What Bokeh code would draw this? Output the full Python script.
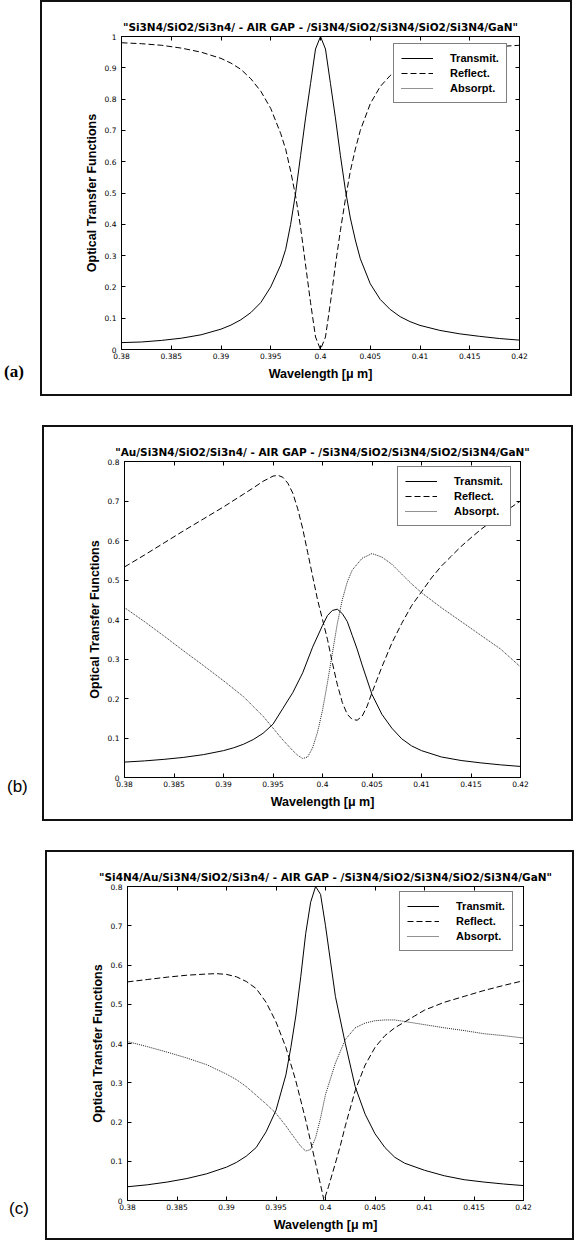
from bokeh.plotting import figure
from bokeh.models import (LinearAxis, FixedTicker, Legend, LegendItem, Range1d, Div)
from bokeh.layouts import column, row
from bokeh.embed import file_html
from bokeh.resources import INLINE

# ---------------- data ----------------
x_ticks = [0.38, 0.385, 0.39, 0.395, 0.4, 0.405, 0.41, 0.415, 0.42]
x_tick_labels = ["0.38", "0.385", "0.39", "0.395", "0.4", "0.405", "0.41", "0.415", "0.42"]
y_ticks_a = [0, 0.1, 0.2, 0.3, 0.4, 0.5, 0.6, 0.7, 0.8, 0.9, 1]
y_tick_labels_a = ["0", "0.1", "0.2", "0.3", "0.4", "0.5", "0.6", "0.7", "0.8", "0.9", "1"]
y_ticks_bc = [0, 0.1, 0.2, 0.3, 0.4, 0.5, 0.6, 0.7, 0.8]
y_tick_labels_bc = ["0", "0.1", "0.2", "0.3", "0.4", "0.5", "0.6", "0.7", "0.8"]

titles = [
    '"Si3N4/SiO2/Si3n4/ - AIR GAP - /Si3N4/SiO2/Si3N4/SiO2/Si3N4/GaN"',
    '"Au/Si3N4/SiO2/Si3n4/ - AIR GAP - /Si3N4/SiO2/Si3N4/SiO2/Si3N4/GaN"',
    '"Si4N4/Au/Si3N4/SiO2/Si3n4/ - AIR GAP - /Si3N4/SiO2/Si3N4/SiO2/Si3N4/GaN"',
]
series_names = ["Transmit.", "Reflect.", "Absorpt."]
panel_tags = ["(a)", "(b)", "(c)"]
x_label = "Wavelength [\u03bc m]"
y_label = "Optical Transfer Functions"

# panel (a)
a_T_x = [0.380, 0.382, 0.384, 0.386, 0.388, 0.390, 0.391, 0.392, 0.393, 0.394, 0.395, 0.396, 0.3965,
         0.397, 0.3975, 0.398, 0.3985, 0.399, 0.3995, 0.400, 0.4005, 0.401, 0.4015, 0.402, 0.4025,
         0.403, 0.4035, 0.404, 0.405, 0.406, 0.407, 0.408, 0.409, 0.410, 0.412, 0.414, 0.416, 0.418, 0.420]
a_T_y = [0.022, 0.024, 0.029, 0.036, 0.047, 0.065, 0.078, 0.095, 0.118, 0.150, 0.200, 0.27, 0.32,
         0.40, 0.50, 0.62, 0.74, 0.85, 0.96, 1.0, 0.96, 0.85, 0.74, 0.62, 0.51,
         0.42, 0.35, 0.29, 0.21, 0.16, 0.128, 0.105, 0.089, 0.077, 0.061, 0.050, 0.042, 0.035, 0.030]
a_R_x = a_T_x
a_R_y = [0.980, 0.977, 0.972, 0.963, 0.950, 0.930, 0.915, 0.895, 0.865, 0.825, 0.77, 0.69, 0.64,
         0.57, 0.49, 0.39, 0.27, 0.15, 0.04, 0.0, 0.04, 0.15, 0.27, 0.38, 0.48,
         0.57, 0.64, 0.70, 0.785, 0.84, 0.875, 0.90, 0.918, 0.930, 0.945, 0.955, 0.962, 0.968, 0.972]
a_A_x = [0.380, 0.390, 0.400, 0.410, 0.420]
a_A_y = [0.0, 0.0, 0.0, 0.0, 0.0]

# panel (b)
b_T_x = [0.380, 0.382, 0.384, 0.386, 0.388, 0.390, 0.391, 0.392, 0.393, 0.394, 0.395, 0.396, 0.397,
         0.398, 0.399, 0.400, 0.4005, 0.401, 0.4015, 0.402, 0.4025, 0.403, 0.4035, 0.404, 0.405,
         0.406, 0.407, 0.408, 0.409, 0.410, 0.412, 0.414, 0.416, 0.418, 0.420]
b_T_y = [0.039, 0.042, 0.046, 0.051, 0.058, 0.068, 0.075, 0.084, 0.096, 0.112, 0.135, 0.175, 0.215,
         0.265, 0.33, 0.385, 0.41, 0.423, 0.426, 0.415, 0.395, 0.36, 0.325, 0.285, 0.21,
         0.16, 0.125, 0.098, 0.080, 0.068, 0.052, 0.043, 0.037, 0.032, 0.028]
b_R_x = [0.380, 0.382, 0.384, 0.386, 0.388, 0.390, 0.392, 0.393, 0.394, 0.395, 0.3955, 0.396, 0.3965,
         0.397, 0.3975, 0.398, 0.3985, 0.399, 0.3995, 0.400, 0.4005, 0.401, 0.4015, 0.402, 0.4025,
         0.403, 0.4035, 0.404, 0.4045, 0.405, 0.406, 0.407, 0.408, 0.409, 0.410, 0.411, 0.412,
         0.413, 0.414, 0.415, 0.416, 0.417, 0.418, 0.419, 0.420]
b_R_y = [0.533, 0.563, 0.594, 0.625, 0.655, 0.685, 0.717, 0.733, 0.750, 0.763, 0.765, 0.760, 0.745,
         0.72, 0.68, 0.63, 0.57, 0.51, 0.45, 0.40, 0.35, 0.29, 0.235, 0.19, 0.16,
         0.147, 0.145, 0.155, 0.18, 0.215, 0.28, 0.34, 0.39, 0.435, 0.47, 0.505, 0.535,
         0.56, 0.585, 0.607, 0.628, 0.647, 0.665, 0.683, 0.70]
b_A_x = [0.380, 0.382, 0.384, 0.386, 0.388, 0.390, 0.392, 0.393, 0.394, 0.395, 0.396, 0.397, 0.3975,
         0.398, 0.3985, 0.399, 0.3995, 0.400, 0.4005, 0.401, 0.4015, 0.402, 0.4025, 0.403, 0.404,
         0.405, 0.406, 0.407, 0.408, 0.409, 0.410, 0.412, 0.414, 0.416, 0.418, 0.420]
b_A_y = [0.43, 0.395, 0.358, 0.32, 0.283, 0.245, 0.205, 0.18, 0.155, 0.125, 0.095, 0.068, 0.056,
         0.048, 0.052, 0.075, 0.115, 0.17, 0.24, 0.315, 0.39, 0.45, 0.495, 0.525, 0.555,
         0.567, 0.558, 0.540, 0.515, 0.49, 0.468, 0.43, 0.395, 0.36, 0.325, 0.28]

# panel (c)
c_T_x = [0.380, 0.382, 0.384, 0.386, 0.388, 0.390, 0.391, 0.392, 0.393, 0.394, 0.395, 0.396, 0.3965,
         0.397, 0.3975, 0.398, 0.3985, 0.399, 0.3995, 0.400, 0.4005, 0.401, 0.4015, 0.402, 0.403,
         0.404, 0.405, 0.406, 0.407, 0.408, 0.410, 0.412, 0.414, 0.416, 0.418, 0.420]
c_T_y = [0.035, 0.040, 0.047, 0.056, 0.068, 0.085, 0.097, 0.113, 0.135, 0.175, 0.23, 0.32, 0.39,
         0.47, 0.57, 0.68, 0.76, 0.80, 0.78, 0.70, 0.61, 0.52, 0.46, 0.40, 0.29,
         0.22, 0.17, 0.135, 0.11, 0.095, 0.077, 0.063, 0.053, 0.047, 0.042, 0.038]
c_R_x = [0.380, 0.382, 0.384, 0.386, 0.388, 0.389, 0.390, 0.391, 0.392, 0.393, 0.394, 0.395, 0.396,
         0.397, 0.398, 0.3985, 0.399, 0.3995, 0.39985, 0.4003, 0.401, 0.4015, 0.402, 0.403, 0.404,
         0.405, 0.406, 0.407, 0.408, 0.409, 0.410, 0.412, 0.414, 0.416, 0.418, 0.420]
c_R_y = [0.557, 0.563, 0.569, 0.574, 0.577, 0.578, 0.576, 0.570, 0.558, 0.54, 0.505, 0.455, 0.39,
         0.305, 0.205, 0.15, 0.095, 0.04, 0.0, 0.035, 0.095, 0.14, 0.19, 0.28, 0.345,
         0.39, 0.42, 0.44, 0.455, 0.47, 0.485, 0.505, 0.52, 0.535, 0.548, 0.56]
c_A_x = [0.380, 0.382, 0.384, 0.386, 0.388, 0.390, 0.391, 0.392, 0.393, 0.394, 0.395, 0.396, 0.397,
         0.3975, 0.398, 0.3985, 0.399, 0.3995, 0.400, 0.401, 0.402, 0.403, 0.404, 0.405, 0.406,
         0.407, 0.408, 0.410, 0.412, 0.414, 0.416, 0.418, 0.420]
c_A_y = [0.405, 0.392, 0.378, 0.363, 0.346, 0.322, 0.308, 0.29, 0.268, 0.246, 0.222, 0.19, 0.155,
         0.138, 0.126, 0.13, 0.16, 0.21, 0.27, 0.35, 0.41, 0.44, 0.452, 0.458, 0.46,
         0.46, 0.456, 0.448, 0.44, 0.433, 0.425, 0.42, 0.414]

# ---------------- styling / layout ----------------
SANS = "Liberation Sans"
WIDE = "DejaVu Sans"
PANEL_GAP = 29

line_styles = [dict(line_dash="solid", line_color="black", line_width=1),
               dict(line_dash="6 3", line_color="black", line_width=1),
               dict(line_dash="1 1", line_color="#222222", line_width=1)]

geoms = [
    dict(dw=40, W=532, H=396, fl=81, fw=398, ft=36, fh=313, leg=(272, 246),
         tag_pad=(4, 362), tag_font="'Liberation Serif', serif", tag_weight="bold"),
    dict(dw=42, W=531, H=396, fl=82, fw=396, ft=36, fh=316, leg=(273, 251),
         tag_pad=(7, 352), tag_font="'Liberation Sans', sans-serif", tag_weight="normal"),
    dict(dw=45, W=529, H=390, fl=82, fw=396, ft=36, fh=314, leg=(272, 249),
         tag_pad=(9, 349), tag_font="'Liberation Sans', sans-serif", tag_weight="normal"),
]


def style_axis(ax, ticks, labels, show_labels=True):
    ax.ticker = FixedTicker(ticks=ticks)
    ax.major_tick_in = 4
    ax.major_tick_out = 0
    ax.minor_tick_in = 0
    ax.minor_tick_out = 0
    ax.major_tick_line_color = "black"
    ax.axis_line_color = "black"
    if show_labels:
        ax.major_label_overrides = dict(zip(ticks, labels))
        ax.major_label_text_font = WIDE
        ax.major_label_text_font_size = "7.5px"
        ax.major_label_text_color = "black"
    else:
        ax.major_label_overrides = {t: "" for t in ticks}
        ax.major_label_text_font_size = "0px"
        ax.major_label_standoff = 0


def make_panel(i, y_max, y_ticks, y_labels, data):
    g = geoms[i]
    p = figure(frame_width=g["fw"], frame_height=g["fh"],
               min_border_left=g["fl"], min_border_right=g["W"] - g["fl"] - g["fw"],
               min_border_top=g["ft"], min_border_bottom=g["H"] - g["ft"] - g["fh"],
               x_range=Range1d(0.38, 0.42), y_range=Range1d(0, y_max),
               output_backend="svg", toolbar_location=None, title=titles[i],
               margin=0,
               styles={"box-shadow": "inset 0 0 0 2px #111111", "background": "white"})
    p.xgrid.visible = False
    p.ygrid.visible = False
    p.outline_line_color = "black"
    p.outline_line_alpha = 1
    p.background_fill_color = "white"
    p.border_fill_alpha = 0

    p.title.align = "center"
    p.title.text_font = WIDE
    p.title.text_font_style = "bold"
    p.title.text_font_size = "10.5px"
    p.title.text_color = "black"
    p.title.standoff = 7

    xa = p.xaxis[0]
    style_axis(xa, x_ticks, x_tick_labels)
    xa.major_label_standoff = 3
    xa.axis_label = x_label
    xa.axis_label_text_font = SANS
    xa.axis_label_text_font_style = "bold"
    xa.axis_label_text_font_size = "12.5px"
    xa.axis_label_text_color = "black"
    xa.axis_label_standoff = 5

    ya = p.yaxis[0]
    style_axis(ya, y_ticks, y_labels)
    ya.major_label_standoff = 5
    ya.axis_label = y_label
    ya.axis_label_text_font = SANS
    ya.axis_label_text_font_style = "bold"
    ya.axis_label_text_font_size = "12.5px"
    ya.axis_label_text_color = "black"
    ya.axis_label_standoff = 3

    top = LinearAxis()
    style_axis(top, x_ticks, x_tick_labels, show_labels=False)
    p.add_layout(top, "above")
    right = LinearAxis()
    style_axis(right, y_ticks, y_labels, show_labels=False)
    p.add_layout(right, "right")

    items = []
    for name, (xs, ys), st in zip(series_names, data, line_styles):
        r = p.line(xs, ys, **st)
        items.append(LegendItem(label=name, renderers=[r]))

    leg = Legend(items=items, location=g["leg"])
    leg.margin = 0
    leg.padding = 7
    leg.spacing = 1
    leg.glyph_width = 32
    leg.glyph_height = 14
    leg.label_height = 14
    leg.label_standoff = 17
    leg.label_text_font = SANS
    leg.label_text_font_style = "bold"
    leg.label_text_font_size = "11px"
    leg.label_text_color = "black"
    leg.border_line_color = "black"
    leg.border_line_width = 1
    leg.background_fill_color = "white"
    leg.background_fill_alpha = 1
    p.add_layout(leg)

    pl, pt = g["tag_pad"]
    tag = Div(text=(f'<div style="padding-left:{pl}px;padding-top:{pt}px;font-family:{g["tag_font"]};'
                    f'font-weight:{g["tag_weight"]};font-size:17px;line-height:20px;color:black">'
                    f'{panel_tags[i]}</div>'),
              width=g["dw"], height=g["H"], margin=0)
    return row(tag, p, spacing=0, margin=0)


ra = make_panel(0, 1.0, y_ticks_a, y_tick_labels_a,
                [(a_T_x, a_T_y), (a_R_x, a_R_y), (a_A_x, a_A_y)])
rb = make_panel(1, 0.8, y_ticks_bc, y_tick_labels_bc,
                [(b_T_x, b_T_y), (b_R_x, b_R_y), (b_A_x, b_A_y)])
rc = make_panel(2, 0.8, y_ticks_bc, y_tick_labels_bc,
                [(c_T_x, c_T_y), (c_R_x, c_R_y), (c_A_x, c_A_y)])

layout = column(ra, rb, rc, spacing=PANEL_GAP, margin=0)
open("out.html", "w").write(file_html(layout, INLINE))
